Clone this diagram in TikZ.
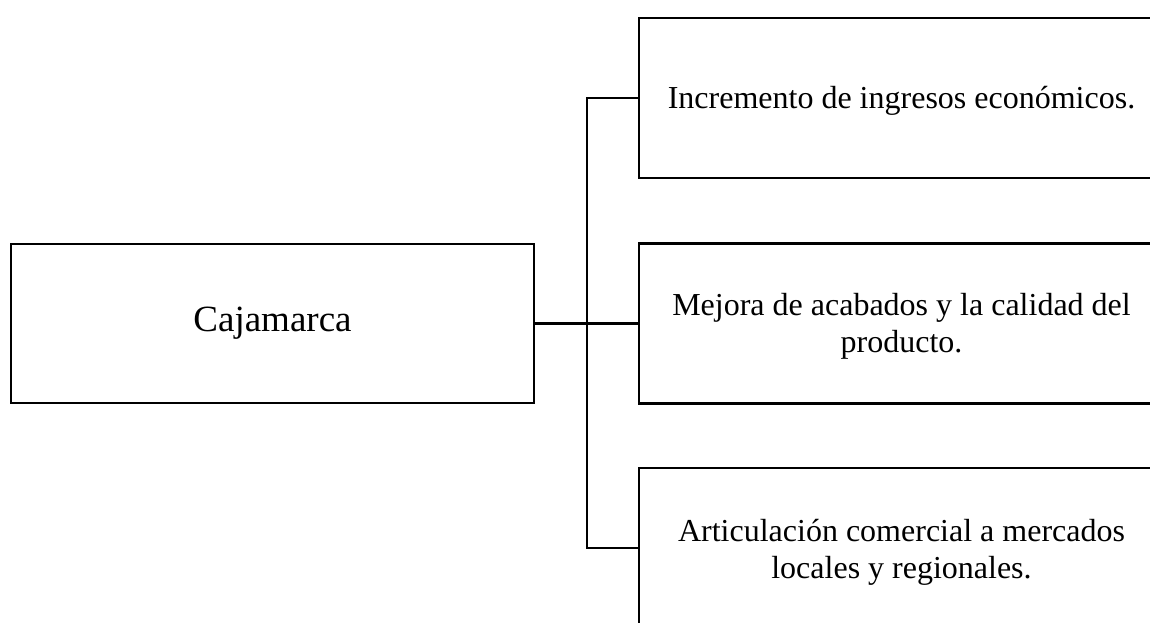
\documentclass[tikz,border=0pt]{standalone}
\usepackage{fontspec}
\setmainfont{Liberation Serif}
\begin{document}
\begin{tikzpicture}[x=1pt,y=-1pt,
  box/.style={draw=black,line width=2.6pt,rectangle,inner sep=0pt,
    minimum width=525pt,minimum height=160pt},
  txt/.style={inner sep=0pt,align=center,text height=22pt,text depth=7pt,
    font=\fontsize{32}{37}\selectfont},
  link/.style={draw=black,line width=2.6pt}]
\useasboundingbox (0,0) rectangle (1150,622);
\clip (0,0) rectangle (1150,622);
\fill[white] (0,0) rectangle (1150,622);
\node[box,minimum width=523pt,minimum height=159pt,font=\fontsize{37}{44}\selectfont] (caj) at (272.5,323.5) {Cajamarca};
\node[box] (top) at (901.5,98) {};
\node[box] (mid) at (901.5,323.5) {};
\node[box] (bot) at (901.5,548) {};
\node[txt] (toptxt) at (901.5,100.5) {Incremento de ingresos económicos.};
\node[txt] (midtxt) at (901.5,345) {Mejora de acabados y la calidad del\\producto.};
\node[txt] (bottxt) at (901.5,571) {Articulación comercial a mercados\\locales y regionales.};
\coordinate (jt) at (587,98);
\coordinate (jb) at (587,548);
\draw[link] (caj.east) -- (mid.west);
\draw[link] (top.west) -- (jt) -- (jb) -- (bot.west);
\end{tikzpicture}
\end{document}
